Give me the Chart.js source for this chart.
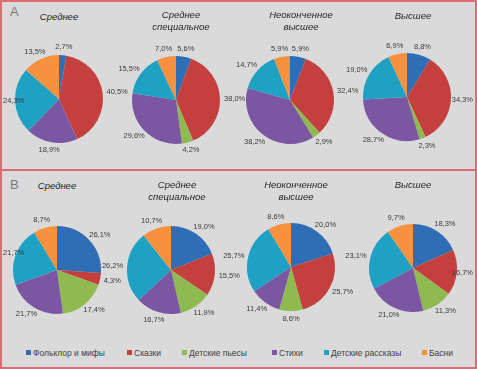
<!DOCTYPE html>
<html>
<head>
<meta charset="utf-8">
<script src="https://cdn.jsdelivr.net/npm/chart.js@4.4.1/dist/chart.umd.min.js"></script>
<style>
    body { margin: 0; width: 477px; height: 369px; background: #e6e6e6; overflow: hidden;
           font-family: "Liberation Sans", Arial, sans-serif; }
    #frame { position: absolute; left: 0; top: 0; width: 477px; height: 369px; box-sizing: border-box;
             border: 2px solid #de6a74; background: #dadada; }
    #divider { position: absolute; left: 0; top: 169px; width: 477px; height: 2px; background: #de6a74; }
    .panel-letter { position: absolute; font-size: 13px; color: #7a7a7a; }
    .title { position: absolute; width: 120px; text-align: center; font-style: italic;
             font-size: 9.5px; line-height: 12px; color: #262626; }
    canvas.pie { position: absolute; }
    #legend { position: absolute; top: 347px; left: 0; width: 477px; height: 12px; }
    .item { position: absolute; font-size: 8.5px; color: #404040; line-height: 12px; white-space: nowrap; }
    .item i { display: inline-block; width: 5px; height: 5px; margin-right: 2px; vertical-align: 1px; }
</style>
</head>
<body>
<div id="frame"></div>
<div id="divider"></div>
<div class="panel-letter" style="left:10px;top:4px">А</div>
<div class="panel-letter" style="left:10px;top:177px">В</div>
<div id="legend"></div>

<script>
// categories (slices) and their colours
const categories = ['Фольклор и мифы', 'Сказки', 'Детские пьесы', 'Стихи', 'Детские рассказы', 'Басни'];
const sliceColors = ['#2f6db4', '#c4403f', '#8fba4f', '#7b56a2', '#1fa1c3', '#f5913f'];

// education groups (chart titles)
const groupTitles = [['Среднее'], ['Среднее', 'специальное'], ['Неоконченное', 'высшее'], ['Высшее']];

// panel A, percent per category
const aSecondary     = [2.7, 40.5, 0, 18.9, 24.3, 13.5];
const aSpecial       = [5.6, 38.0, 4.2, 29.6, 15.5, 7.0];
const aIncomplete    = [5.9, 32.4, 2.9, 38.2, 14.7, 5.9];
const aHigher        = [8.8, 34.3, 2.3, 28.7, 19.0, 6.9];

// panel B, percent per category
const bSecondary     = [26.1, 4.3, 17.4, 21.7, 21.7, 8.7];
const bSpecial       = [19.0, 15.5, 11.9, 16.7, 26.2, 10.7];
const bIncomplete    = [20.0, 25.7, 8.6, 11.4, 25.7, 8.6];
const bHigher        = [18.3, 16.7, 11.3, 21.0, 23.1, 9.7];

// where each pie sits on the page
const pies = [
    { data: aSecondary,  title: 0, cx: 59,  cy: 99,  tx: 59,  ty: 11 },
    { data: aSpecial,    title: 1, cx: 176, cy: 100, tx: 181, ty: 9 },
    { data: aIncomplete, title: 2, cx: 290, cy: 100, tx: 301, ty: 9 },
    { data: aHigher,     title: 3, cx: 407, cy: 97,  tx: 413, ty: 10 },
    { data: bSecondary,  title: 0, cx: 57,  cy: 270, tx: 57,  ty: 180 },
    { data: bSpecial,    title: 1, cx: 171, cy: 270, tx: 177, ty: 179 },
    { data: bIncomplete, title: 2, cx: 291, cy: 267, tx: 296, ty: 179 },
    { data: bHigher,     title: 3, cx: 413, cy: 268, tx: 413, ty: 179 }
];

const CW = 170, CH = 140;
const PAGE_W = 477;

// percentage labels outside each slice
const outsideLabels = {
    id: 'outsideLabels',
    afterDatasetsDraw(chart) {
        const ctx = chart.ctx;
        const meta = chart.getDatasetMeta(0);
        const values = chart.data.datasets[0].data;
        const left = chart.canvas.offsetLeft;
        ctx.save();
        ctx.font = '7.5px "Liberation Sans", Arial, sans-serif';
        ctx.fillStyle = '#3a3a3a';
        ctx.textAlign = 'center';
        ctx.textBaseline = 'middle';
        meta.data.forEach((arc, i) => {
            if (!values[i]) return;
            const p = arc.getProps(['x', 'y', 'startAngle', 'endAngle', 'outerRadius'], true);
            const a = (p.startAngle + p.endAngle) / 2;
            const dx = Math.cos(a), dy = Math.sin(a);
            const text = values[i].toFixed(1).replace('.', ',') + '%';
            const w = ctx.measureText(text).width;
            const h = 8;
            let x = p.x + dx * (p.outerRadius + 4) + dx * w / 2;
            let y = p.y + dy * (p.outerRadius + 4) + dy * h / 2;
            // keep labels inside the page frame
            x = Math.min(Math.max(x, w / 2 + 3 - left), PAGE_W - 4 - w / 2 - left);
            ctx.fillText(text, x, y);
        });
        ctx.restore();
    }
};

pies.forEach(pie => {
    const canvas = document.createElement('canvas');
    canvas.className = 'pie';
    canvas.width = CW;
    canvas.height = CH;
    canvas.style.left = Math.max(pie.cx - CW / 2, 0) + 'px';
    canvas.style.top = (pie.cy - CH / 2) + 'px';
    document.body.appendChild(canvas);

    // the canvas is shifted when clamped at the page edge, so move the pie back
    const shiftX = Math.min(pie.cx - CW / 2, 0);

    new Chart(canvas.getContext('2d'), {
        type: 'pie',
        data: {
            labels: categories,
            datasets: [{
                data: pie.data,
                backgroundColor: sliceColors,
                borderWidth: 0,
                hoverOffset: 0,
                radius: 44
            }]
        },
        options: {
            responsive: false,
            animation: false,
            events: [],
            layout: { padding: { right: -2 * shiftX } },
            plugins: { legend: { display: false }, tooltip: { enabled: false } }
        },
        plugins: [outsideLabels]
    });

    const t = document.createElement('div');
    t.className = 'title';
    t.style.left = (pie.tx - 60) + 'px';
    t.style.top = pie.ty + 'px';
    t.innerHTML = groupTitles[pie.title].join('<br>');
    document.body.appendChild(t);
});

// shared legend along the bottom
const legendX = [26, 127, 182, 272, 324, 422];
const legend = document.getElementById('legend');
categories.forEach((name, i) => {
    const item = document.createElement('div');
    item.className = 'item';
    item.style.left = legendX[i] + 'px';
    item.innerHTML = '<i style="background:' + sliceColors[i] + '"></i>' + name;
    legend.appendChild(item);
});
</script>
</body>
</html>
